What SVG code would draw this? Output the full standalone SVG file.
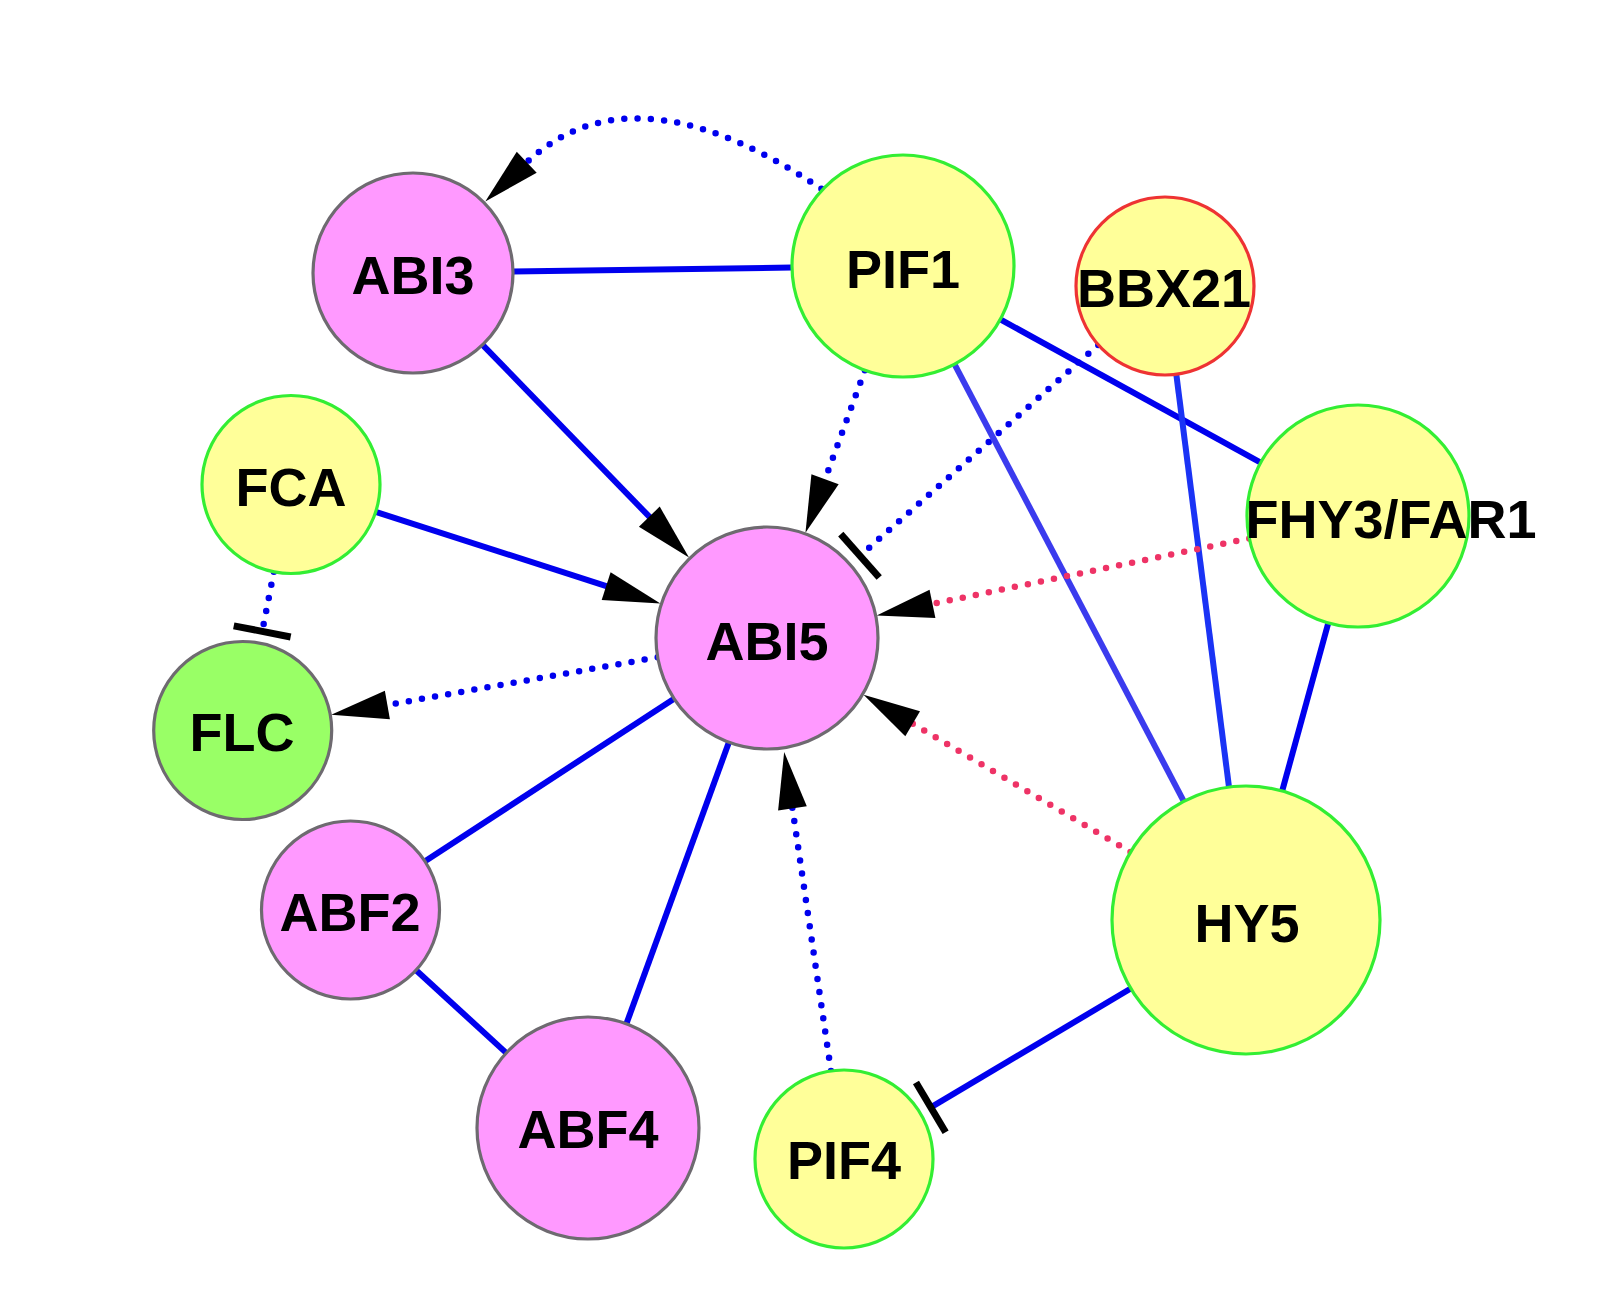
<svg xmlns="http://www.w3.org/2000/svg" width="1600" height="1309" viewBox="0 0 1600 1309">
<style>
.e{fill:none;stroke:#0000ee;stroke-width:6}
.d{fill:none;stroke:#0000ee;stroke-width:6.5;stroke-linecap:round;stroke-dasharray:0 13.3}
.p{fill:none;stroke:#ee3366;stroke-width:6.5;stroke-linecap:round;stroke-dasharray:0 13.3}
.n circle{stroke-width:3.2}
.pk{fill:#ff99ff;stroke:#6e6a70}
.yl{fill:#ffff99;stroke:#33ee33}
.rd{fill:#ffff99;stroke:#ee3333}
.gr{fill:#99ff66;stroke:#6e6a70}
.n text{font-family:"Liberation Sans",Arial,sans-serif;font-weight:bold;font-size:54px;fill:#000;text-anchor:middle}
</style>
<defs>
<marker id="arr" markerUnits="userSpaceOnUse" markerWidth="60" markerHeight="32" viewBox="0 0 60 32" refX="1" refY="16" orient="auto" overflow="visible">
<path d="M0,1.5 L57,16 L0,30.5 Z" fill="#000"/>
</marker>
<marker id="tee" markerUnits="userSpaceOnUse" markerWidth="7" markerHeight="58" viewBox="0 0 7 58" refX="3.5" refY="29" orient="auto" overflow="visible">
<rect x="0" y="0" width="7" height="58" fill="#000"/>
</marker>
</defs>
<rect width="1600" height="1309" fill="#fff"/>
<g id="connectors">
<path id="e-abi3-pif1" class="e" d="M513,271.6 L792,267.6"/>
<path id="e-pif1-abi3" class="d" d="M821.4,188.8 C713,116 606,87.4 526,163" marker-end="url(#arr)"/>
<path id="e-abi3-abi5" class="e" d="M482.6,344.8 L650,517.4" marker-end="url(#arr)"/>
<path id="e-fca-abi5" class="e" d="M375.7,511.8 L607.1,586.4" marker-end="url(#arr)"/>
<path id="e-pif1-abi5" class="d" d="M864.9,370.3 L824.7,480.2" marker-end="url(#arr)"/>
<path id="e-bbx21-abi5" class="d" d="M1098.3,345 L860,555.8" marker-end="url(#tee)"/>
<path id="e-pif1-fhy3" class="e" d="M1000.3,319.4 L1260.7,462.6"/>
<path id="e-pif1-hy5" class="e" style="stroke:#3b3bee" d="M954.6,364.3 L1183.8,801.3"/>
<path id="e-bbx21-hy5" class="e" style="stroke:#1a33f5" d="M1176.3,374.3 L1229,787.1"/>
<path id="e-fhy3-hy5" class="e" d="M1328.3,623 L1282.2,790.9"/>
<path id="e-fhy3-abi5" class="p" d="M1249.3,538.4 L931.5,604.1" marker-end="url(#arr)"/>
<path id="e-hy5-abi5" class="p" d="M1130.5,852 L911.8,723.2" marker-end="url(#arr)"/>
<path id="e-fca-flc" class="d" d="M273.9,571.8 L262.2,631.4" marker-end="url(#tee)"/>
<path id="e-abi5-flc" class="d" d="M657.7,657.3 L386.4,705.1" marker-end="url(#arr)"/>
<path id="e-abi5-abf2" class="e" d="M674.1,698.7 L425,861.3"/>
<path id="e-abi5-abf4" class="e" d="M728.9,742.3 L626.4,1023.8"/>
<path id="e-abf2-abf4" class="e" d="M416.1,970.2 L506.2,1052.9"/>
<path id="e-pif4-abi5" class="d" d="M831,1071 L792.3,807.4" marker-end="url(#arr)"/>
<path id="e-hy5-pif4" class="e" d="M1130.8,988.5 L930.8,1107.4" marker-end="url(#tee)"/>
</g>
<g id="ABI3" class="n"><circle class="pk" cx="413" cy="273" r="100"/><text x="413" y="294">ABI3</text></g>
<g id="PIF1" class="n"><circle class="yl" cx="903" cy="266" r="111"/><text x="903" y="288">PIF1</text></g>
<g id="BBX21" class="n"><circle class="rd" cx="1165" cy="286" r="89"/><text x="1164" y="307">BBX21</text></g>
<g id="FCA" class="n"><circle class="yl" cx="291" cy="484.5" r="89"/><text x="291" y="506">FCA</text></g>
<g id="ABI5" class="n"><circle class="pk" cx="767" cy="638" r="111"/><text x="767" y="660">ABI5</text></g>
<g id="FHY3_FAR1" class="n"><circle class="yl" cx="1358" cy="516" r="111"/><text x="1391" y="538">FHY3/FAR1</text></g>
<g id="FLC" class="n"><circle class="gr" cx="242.7" cy="730.5" r="89"/><text x="242" y="751">FLC</text></g>
<g id="ABF2" class="n"><circle class="pk" cx="350.5" cy="910" r="89"/><text x="350" y="931">ABF2</text></g>
<g id="ABF4" class="n"><circle class="pk" cx="588" cy="1128" r="111"/><text x="588" y="1148">ABF4</text></g>
<g id="PIF4" class="n"><circle class="yl" cx="844" cy="1159" r="89"/><text x="844" y="1179">PIF4</text></g>
<g id="HY5" class="n"><circle class="yl" cx="1246" cy="920" r="134"/><text x="1247" y="942">HY5</text></g>
</svg>
